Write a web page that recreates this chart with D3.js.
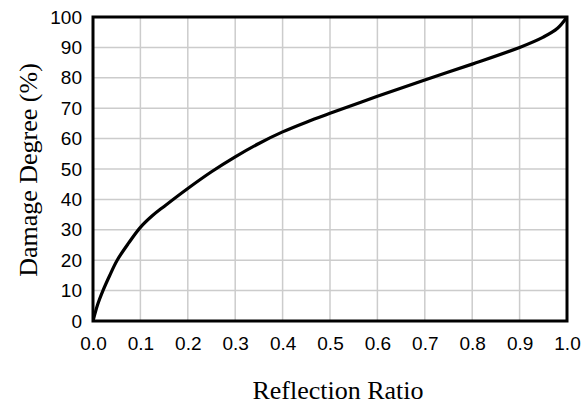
<!DOCTYPE html>
<html>
<head>
<meta charset="utf-8">
<script src="https://cdn.jsdelivr.net/npm/d3@7"></script>
<style>
  html, body { margin: 0; padding: 0; background: #fff; }
  svg { display: block; }
</style>
</head>
<body>
<svg id="chart" width="582" height="404"></svg>
<script>
// Damage degree as a function of reflection ratio
const reflectionRatio = [0, 0.01, 0.021, 0.035, 0.051, 0.075, 0.1, 0.125, 0.15, 0.2, 0.25, 0.3, 0.35, 0.4, 0.45, 0.5, 0.6, 0.7, 0.8, 0.9, 0.95, 0.98, 1.0];
const damageDegree    = [0, 5.5, 10, 14.9, 20, 25.6, 30.8, 34.6, 37.7, 43.6, 49.1, 54, 58.4, 62.2, 65.4, 68.3, 73.9, 79.3, 84.5, 90, 93.4, 96.3, 100];

const xTicks = [0, 0.1, 0.2, 0.3, 0.4, 0.5, 0.6, 0.7, 0.8, 0.9, 1.0];
const yTicks = [0, 10, 20, 30, 40, 50, 60, 70, 80, 90, 100];

const xTitle = "Reflection Ratio";
const yTitle = "Damage Degree (%)";

(function () {
  const svg = d3.select("#chart");
  const m = { left: 93, right: 567, top: 17, bottom: 321 };

  const x = d3.scaleLinear().domain([0, 1]).range([m.left, m.right]);
  const y = d3.scaleLinear().domain([0, 100]).range([m.bottom, m.top]);

  // grid
  const grid = svg.append("g").attr("stroke", "#cccccc").attr("stroke-width", 1.5);
  grid.selectAll("line.v").data(xTicks.slice(1, -1)).join("line").attr("class", "v")
    .attr("x1", d => x(d)).attr("x2", d => x(d)).attr("y1", m.top).attr("y2", m.bottom);
  grid.selectAll("line.h").data(yTicks.slice(1, -1)).join("line").attr("class", "h")
    .attr("x1", m.left).attr("x2", m.right).attr("y1", d => y(d)).attr("y2", d => y(d));

  // axes (labels only; frame drawn separately)
  const tickFont = "'Liberation Sans', Arial, sans-serif";
  const xAxis = svg.append("g").attr("transform", `translate(0,${m.bottom})`)
    .call(d3.axisBottom(x).tickValues(xTicks).tickFormat(d3.format(".1f")).tickSize(0).tickPadding(16));
  const yAxis = svg.append("g").attr("transform", `translate(${m.left},0)`)
    .call(d3.axisLeft(y).tickValues(yTicks).tickFormat(d3.format("d")).tickSize(0).tickPadding(11));
  [xAxis, yAxis].forEach(a => {
    a.select(".domain").remove();
    a.selectAll("text").attr("font-family", tickFont).attr("font-size", 19).attr("fill", "#000");
  });

  // curve (clipped to the plot frame)
  svg.append("clipPath").attr("id", "plot-clip").append("rect")
    .attr("x", m.left).attr("y", m.top).attr("width", m.right - m.left).attr("height", m.bottom - m.top);
  const pts = reflectionRatio.map((r, i) => [r, damageDegree[i]]);
  const line = d3.line().x(d => x(d[0])).y(d => y(d[1])).curve(d3.curveCatmullRom.alpha(0.5));
  svg.append("path").datum(pts).attr("d", line).attr("clip-path", "url(#plot-clip)")
    .attr("fill", "none").attr("stroke", "#000").attr("stroke-width", 3.2)
    .attr("stroke-linejoin", "round");

  // frame
  svg.append("rect").attr("x", m.left).attr("y", m.top)
    .attr("width", m.right - m.left).attr("height", m.bottom - m.top)
    .attr("fill", "none").attr("stroke", "#000").attr("stroke-width", 3);

  // titles
  const titleFont = "'Liberation Serif', 'Times New Roman', serif";
  svg.append("text").attr("x", 338).attr("y", 399).attr("text-anchor", "middle")
    .attr("font-family", titleFont).attr("font-size", 26).attr("fill", "#000").text(xTitle);
  svg.append("text").attr("transform", "translate(37,170) rotate(-90)").attr("text-anchor", "middle")
    .attr("font-family", titleFont).attr("font-size", 26).attr("fill", "#000").text(yTitle);
})();
</script>
</body>
</html>
